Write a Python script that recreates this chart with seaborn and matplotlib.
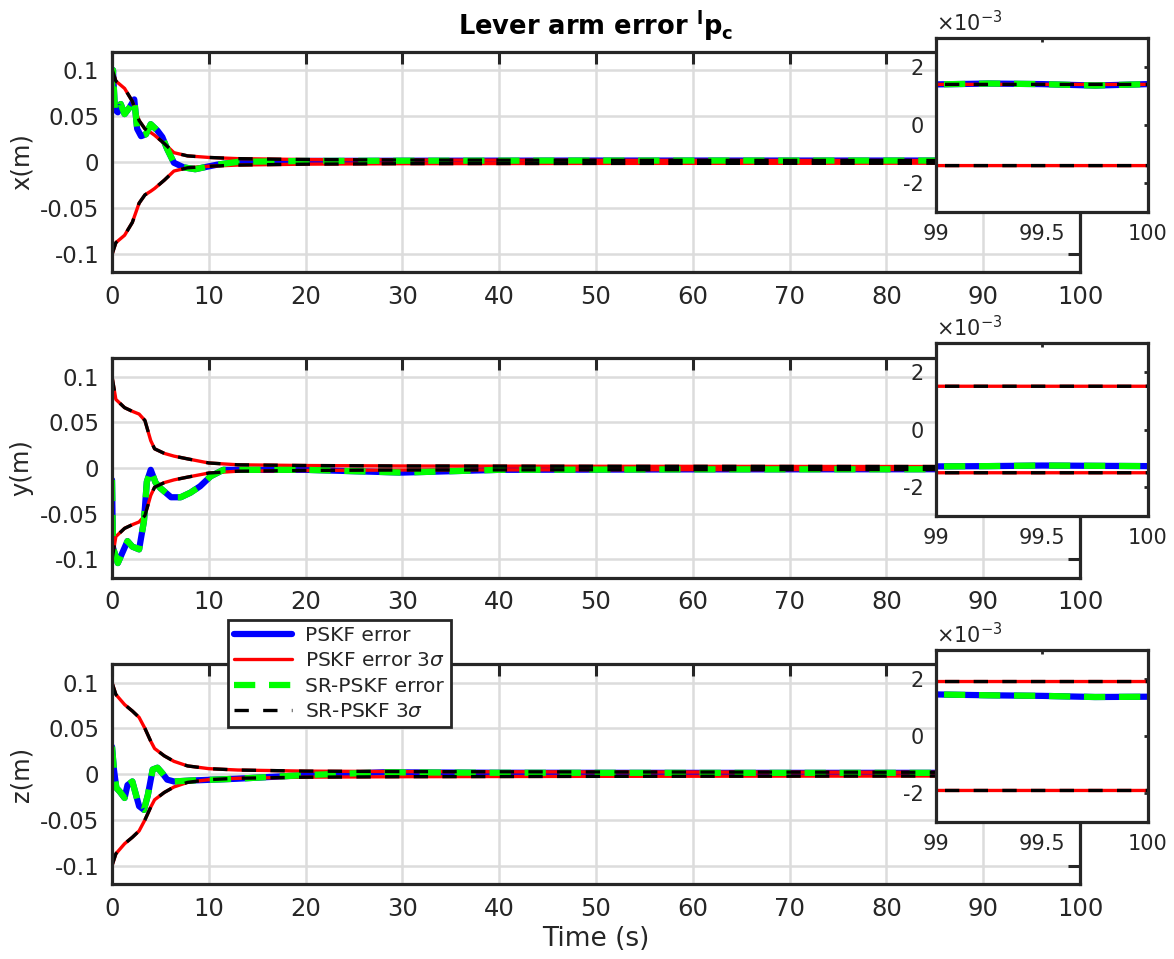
import numpy as np
import matplotlib
matplotlib.use("Agg")
import matplotlib.pyplot as plt
import seaborn as sns
from matplotlib.ticker import FuncFormatter, FixedLocator

# ---------------- data ----------------
t_sig = [0, 0.4, 1.3, 2.1, 2.8, 3.4, 4.0, 4.4, 5.4, 6.4, 7.8, 10, 13, 20, 30, 50, 99, 100]
x_sig = [0.101, 0.088, 0.080, 0.066, 0.045, 0.036, 0.032, 0.029, 0.020, 0.010, 0.0065,
         0.0048, 0.0035, 0.0025, 0.0020, 0.0017, 0.0014, 0.0014]
y_sig = [0.100, 0.075, 0.066, 0.062, 0.059, 0.052, 0.030, 0.021, 0.016, 0.013, 0.010,
         0.0055, 0.0035, 0.0027, 0.0022, 0.0019, 0.0015, 0.0015]
z_sig = [0.100, 0.087, 0.076, 0.069, 0.062, 0.050, 0.036, 0.028, 0.020, 0.014, 0.009,
         0.006, 0.0045, 0.0033, 0.0028, 0.0024, 0.0019, 0.0019]

t_x = [0, 0.1, 0.3, 0.6, 0.9, 1.3, 1.8, 2.3, 2.6, 3.0, 3.5, 4.0, 4.7, 5.2, 5.7, 6.4, 7.4,
       8.6, 9.5, 10.9, 13, 20, 30, 50, 70, 99, 99.25, 99.5, 99.75, 100]
x_err = [0.080, 0.100, 0.057, 0.054, 0.063, 0.052, 0.059, 0.068, 0.036, 0.028, 0.030, 0.041,
         0.034, 0.027, 0.014, -0.001, -0.006, -0.008, -0.006, -0.003, 0.0, 0.001, 0.0012,
         0.0014, 0.0014, 0.00140, 0.00143, 0.00141, 0.00136, 0.00141]

t_y = [0, 0.1, 0.6, 1.1, 1.6, 2.1, 2.8, 3.3, 3.6, 4.0, 4.5, 5.0, 6.1, 7.1, 8.1, 9.1, 10.2,
       11.5, 13.5, 20, 30, 40, 60, 99, 99.25, 99.5, 99.75, 100]
y_err = [-0.013, -0.087, -0.104, -0.092, -0.080, -0.086, -0.089, -0.058, -0.015, -0.002,
         -0.016, -0.022, -0.032, -0.032, -0.027, -0.020, -0.009, -0.002, -0.002, -0.002,
         -0.005, -0.002, -0.0015, -0.00128, -0.00127, -0.00125, -0.00126, -0.00127]

t_z = [0, 0.2, 0.45, 0.8, 1.3, 1.6, 2.1, 2.8, 3.3, 3.7, 4.2, 4.7, 5.2, 5.7, 6.4, 8.1, 10.5,
       12.9, 20, 28, 40, 60, 99, 99.25, 99.5, 99.75, 100]
z_err = [0.030, 0.005, -0.015, -0.019, -0.026, -0.012, -0.008, -0.035, -0.039, -0.023, 0.005,
         0.007, 0.001, -0.006, -0.008, -0.007, -0.006, -0.005, -0.001, 0.002, 0.0015, 0.0014,
         0.00145, 0.00142, 0.0014, 0.00136, 0.00137]

y_labels = ["x(m)", "y(m)", "z(m)"]
legend_labels = ["PSKF error", "PSKF error 3$\\sigma$", "SR-PSKF error", "SR-PSKF 3$\\sigma$"]
main_xticks = [0, 10, 20, 30, 40, 50, 60, 70, 80, 90, 100]
main_yticks = [-0.1, -0.05, 0, 0.05, 0.1]
inset_xticks = [99, 99.5, 100]
inset_yticks = [-2e-3, 0, 2e-3]
inset_scale_label = r"$\times10^{-3}$"
title = r"Lever arm error $\mathbf{{}^{l}p_{c}}$"

# ---------------- style ----------------
sns.set_theme(style="white")
plt.rcParams["font.family"] = ["DejaVu Sans"]
plt.rcParams["axes.unicode_minus"] = False
TXT = "#262626"

W, H = 1174, 959
fig = plt.figure(figsize=(W / 100, H / 100), dpi=100)
fig.patch.set_facecolor("white")

def fx(px):
    return px / W

def fy(top, bottom):
    return (H - bottom) / H, (bottom - top) / H

main_boxes = [(51.7, 272), (358.3, 577.7), (664.3, 884)]
inset_boxes = [(38, 212), (343, 516), (650, 822)]
main_l, main_r = 112, 1080
ins_l, ins_r = 936, 1148

panels = [(t_x, x_err, x_sig), (t_y, y_err, y_sig), (t_z, z_err, z_sig)]

BLUE, RED, GREEN, BLACK = "#0000ff", "#ff0000", "#00ff00", "#000000"

def draw_lines(ax, t, err, sig, labels=True):
    sig = np.asarray(sig)
    sns.lineplot(x=t, y=err, ax=ax, color=BLUE, lw=4.5,
                 label=legend_labels[0] if labels else None, legend=False)
    sns.lineplot(x=t_sig, y=sig, ax=ax, color=RED, lw=2.4,
                 label=legend_labels[1] if labels else None, legend=False)
    sns.lineplot(x=t_sig, y=-sig, ax=ax, color=RED, lw=2.4, legend=False)
    sns.lineplot(x=t, y=err, ax=ax, color=GREEN, lw=4.5,
                 label=legend_labels[2] if labels else None, legend=False)
    ax.lines[-1].set_dashes((3.4, 2.2))
    sns.lineplot(x=t_sig, y=sig, ax=ax, color=BLACK, lw=2.4,
                 label=legend_labels[3] if labels else None, legend=False)
    ax.lines[-1].set_dashes((4.3, 4.3))
    sns.lineplot(x=t_sig, y=-sig, ax=ax, color=BLACK, lw=2.4, legend=False)
    ax.lines[-1].set_dashes((4.3, 4.3))

def fmt_main(v, pos):
    if abs(v) < 1e-12:
        return "0"
    return "%g" % v

def fmt_inset_y(v, pos):
    s = "%g" % round(v * 1e3, 6)
    return "0" if s in ("0", "-0") else s

axes = []
for i, ((top, bot), (itop, ibot), (t, err, sig)) in enumerate(zip(main_boxes, inset_boxes, panels)):
    b, h = fy(top, bot)
    ax = fig.add_axes([fx(main_l), b, fx(main_r - main_l), h])
    draw_lines(ax, t, err, sig, labels=(i == 2))
    ax.set_xlim(0, 100)
    ax.set_ylim(-0.12, 0.12)
    ax.xaxis.set_major_locator(FixedLocator(main_xticks))
    ax.yaxis.set_major_locator(FixedLocator(main_yticks))
    ax.yaxis.set_major_formatter(FuncFormatter(fmt_main))
    ax.grid(True, color="#dcdcdc", lw=1.8)
    ax.set_axisbelow(True)
    ax.tick_params(direction="in", length=8.5, width=2.2, top=True, right=True,
                   colors=TXT, labelcolor=TXT)
    ax.tick_params(axis="x", labelsize=17.5, pad=9)
    ax.tick_params(axis="y", labelsize=16.5, pad=9)
    for s in ax.spines.values():
        s.set_linewidth(2.3)
        s.set_color(TXT)
    ax.set_ylabel(y_labels[i], fontsize=17.5, color=TXT, labelpad=5)
    ax.set_xlabel("")
    axes.append(ax)

    # inset
    ib, ih = fy(itop, ibot)
    axi = fig.add_axes([fx(ins_l), ib, fx(ins_r - ins_l), ih], zorder=5)
    axi.set_facecolor("white")
    draw_lines(axi, t, err, sig, labels=False)
    axi.set_xlim(99, 100)
    axi.set_ylim(-3e-3, 3e-3)
    axi.xaxis.set_major_locator(FixedLocator(inset_xticks))
    axi.yaxis.set_major_locator(FixedLocator(inset_yticks))
    axi.xaxis.set_major_formatter(FuncFormatter(lambda v, p: "%g" % v))
    axi.yaxis.set_major_formatter(FuncFormatter(fmt_inset_y))
    axi.text(0.0, 1.015, inset_scale_label, transform=axi.transAxes,
             ha="left", va="bottom", fontsize=15, color=TXT)
    axi.grid(False)
    axi.tick_params(direction="in", length=3, width=2, top=True, right=True,
                    labelsize=15, colors=TXT, labelcolor=TXT, pad=9)
    for s in axi.spines.values():
        s.set_linewidth(2.3)
        s.set_color(TXT)
    axi.set_xlabel("")
    axi.set_ylabel("")

axes[0].set_title(title, fontsize=18.5, fontweight="bold", color="black", pad=12)
axes[2].set_xlabel("Time (s)", fontsize=19, color=TXT, labelpad=4)

handles, labels = axes[2].get_legend_handles_labels()
leg = axes[2].legend(handles, labels, loc="upper left",
                     bbox_to_anchor=(fx(228), 1 - 620 / H), bbox_transform=fig.transFigure,
                     fontsize=14.5, frameon=True, fancybox=False, framealpha=1,
                     edgecolor=TXT, borderaxespad=0, handlelength=2.9,
                     labelspacing=0.32, borderpad=0.3, handletextpad=0.6)
leg.get_frame().set_linewidth(2.0)
for txt in leg.get_texts():
    txt.set_color(TXT)
leg.set_zorder(10)

fig.savefig("out.png", dpi=100, facecolor="white")
